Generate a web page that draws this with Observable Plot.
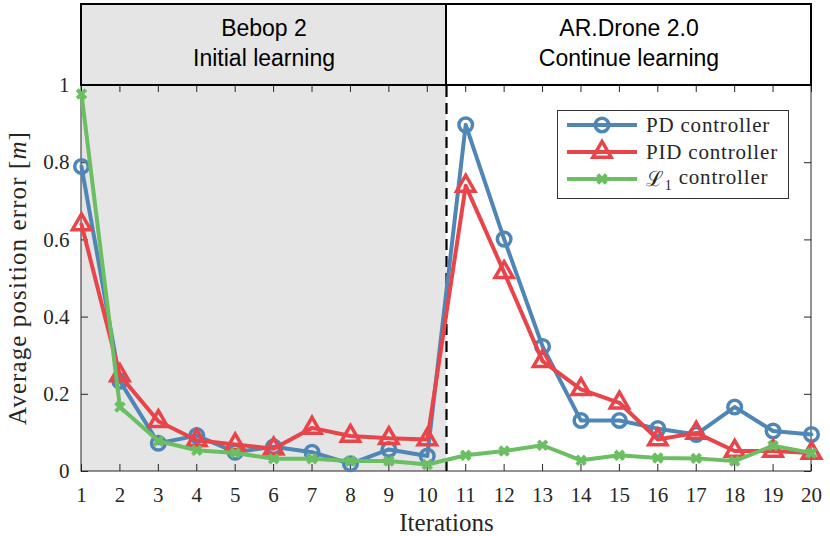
<!DOCTYPE html>
<html><head><meta charset="utf-8">
<script src="https://cdn.jsdelivr.net/npm/d3@7"></script>
<script src="https://cdn.jsdelivr.net/npm/@observablehq/plot@0.6"></script>
<style>body{margin:0;background:#fff} svg{display:block}</style>
</head><body><div id="chart"></div>
<script>
// ---- data ----
const iterations = [1,2,3,4,5,6,7,8,9,10,11,12,13,14,15,16,17,18,19,20];
const pd  = [0.790,0.234,0.073,0.093,0.050,0.064,0.050,0.020,0.057,0.040, 0.898,0.602,0.324,0.132,0.132,0.111,0.096,0.167,0.105,0.096];
const pid = [0.640,0.249,0.130,0.081,0.070,0.059,0.113,0.092,0.086,0.083, 0.740,0.516,0.286,0.213,0.178,0.083,0.100,0.053,0.053,0.048];
const l1  = [0.978,0.167,0.079,0.055,0.048,0.033,0.033,0.027,0.027,0.018, 0.042,0.053,0.068,0.029,0.042,0.035,0.034,0.027,0.067,0.048];
const yTicks = [0,0.2,0.4,0.6,0.8,1];
const yTickLabels = ["0","0.2","0.4","0.6","0.8","1"];
const phaseStart = [1, 10.5];
const phaseEnd = [10.5, 20];
const phaseTitle = ["Bebop 2", "AR.Drone 2.0"];
const phaseSubtitle = ["Initial learning", "Continue learning"];
const seriesNames = ["PD controller", "PID controller", "controller"];

const blue = "#4f86b6", red = "#e8454b", green = "#6bbe61";
const yTop = 1.2098;           // header band sits above y = 1
const W = 830, H = 536, mL = 81, mR = 19, mT = 4, mB = 65;
const tx = 7 / ((W - mL - mR) / 19);   // 7px tick in x units
const ty = 7 / ((H - mT - mB) / yTop); // 7px tick in y units

const rows = iterations.map((it, i) => ({it, pd: pd[i], pid: pid[i], l1: l1[i]}));
const phases = phaseStart.map((s, i) => ({s, e: phaseEnd[i], t: phaseTitle[i], st: phaseSubtitle[i], i}));

const serif = "Liberation Serif, Times New Roman, serif";
const sans = "Liberation Sans, Arial, Helvetica, sans-serif";

const plot = Plot.plot({
  width: W, height: H,
  marginLeft: mL, marginRight: mR, marginTop: mT, marginBottom: mB,
  x: {domain: [1, 20], axis: null},
  y: {domain: [0, yTop], axis: null},
  style: {background: "white"},
  marks: [
    Plot.rect([0], {x1: () => 1, x2: () => 10.5, y1: () => 0, y2: () => yTop, fill: "#e5e5e5"}),
    Plot.rect([0], {x1: () => 1, x2: () => 20, y1: () => 0, y2: () => 1, fill: "none", stroke: "#262626", strokeWidth: 1}),
    // inward ticks
    Plot.ruleX(iterations, {x: d => d, y1: () => 0, y2: () => ty, stroke: "#262626", strokeWidth: 1}),
    Plot.ruleX(iterations, {x: d => d, y1: () => 1 - ty, y2: () => 1, stroke: "#262626", strokeWidth: 1}),
    Plot.ruleY(yTicks, {y: d => d, x1: () => 1, x2: () => 1 + tx, stroke: "#262626", strokeWidth: 1}),
    Plot.ruleY(yTicks, {y: d => d, x1: () => 20 - tx, x2: () => 20, stroke: "#262626", strokeWidth: 1}),
    // header boxes
    Plot.rect(phases, {x1: "s", x2: "e", y1: () => 1, y2: () => yTop, fill: d => d.i ? "white" : "none", stroke: "black", strokeWidth: 2}),
    Plot.text(phases, {x: d => (d.s + d.e) / 2, y: () => yTop, dy: 24.5, text: "t", fontSize: 23, fontFamily: sans, fill: "black"}),
    Plot.text(phases, {x: d => (d.s + d.e) / 2, y: () => yTop, dy: 54.5, text: "st", fontSize: 23, fontFamily: sans, fill: "black"}),
    // dashed divider
    Plot.ruleX([10.5], {x: d => d, y1: () => 0, y2: () => 1, stroke: "black", strokeWidth: 2.2, strokeDasharray: "11,6"}),
    // tick labels
    Plot.text(iterations, {x: d => d, y: () => 0, dy: 24, text: d => String(d), fontSize: 21, fontFamily: serif, fill: "#262626"}),
    Plot.text(yTicks, {x: () => 1, y: d => d, dx: -12, text: (d, i) => yTickLabels[i], textAnchor: "end", fontSize: 21, fontFamily: serif, fill: "#262626"}),
    Plot.text([0], {x: () => 10.5, y: () => 0, dy: 51, text: () => "Iterations", fontSize: 25, fontFamily: serif, fill: "#262626", letterSpacing: 1.1}),
    // series
    Plot.line(rows, {x: "it", y: "pd", stroke: blue, strokeWidth: 4}),
    Plot.dot(rows, {x: "it", y: "pd", r: 6.8, stroke: blue, strokeWidth: 3.5, fill: "none"}),
    Plot.line(rows, {x: "it", y: "pid", stroke: red, strokeWidth: 4}),
    Plot.dot(rows, {x: "it", y: "pid", r: 6.8, symbol: "triangle", stroke: red, strokeWidth: 3.5, fill: "none"}),
    Plot.line(rows, {x: "it", y: "l1", stroke: green, strokeWidth: 4}),
    Plot.dot(rows, {x: "it", y: "l1", r: 4, symbol: "times", stroke: green, strokeWidth: 4})
  ]
});

const svg = d3.select(plot);
const ys = plot.scale("y");
// y axis label
const yl = svg.append("text")
  .attr("transform", `translate(20,${ys.apply(0.5)}) rotate(-90)`)
  .attr("text-anchor", "middle").attr("dominant-baseline", "middle")
  .attr("font-family", serif).attr("font-size", 25).attr("fill", "#262626")
  .style("letter-spacing", "1.1px");
yl.append("tspan").text("Average position error [");
yl.append("tspan").attr("font-style", "italic").text("m");
yl.append("tspan").text("]");

// legend
const lg = svg.append("g").attr("text-anchor", "start");
lg.append("rect").attr("x", 557.5).attr("y", 110.5).attr("width", 231).attr("height", 88)
  .attr("fill", "white").attr("stroke", "#333").attr("stroke-width", 1);
const colors = [blue, red, green];
const symbols = [d3.symbolCircle, d3.symbolTriangle, d3.symbolTimes];
const ly = [125, 152, 179];
colors.forEach((c, i) => {
  lg.append("line").attr("x1", 567).attr("x2", 637).attr("y1", ly[i]).attr("y2", ly[i])
    .attr("stroke", c).attr("stroke-width", 4);
  const size = i === 2 ? Math.PI * 16 : Math.PI * 6.8 * 6.8;
  lg.append("path").attr("d", d3.symbol(symbols[i], size)())
    .attr("transform", `translate(602,${ly[i]})`)
    .attr("fill", "none").attr("stroke", c).attr("stroke-width", i === 2 ? 4 : 3.5);
  const t = lg.append("text").attr("x", 646).attr("y", ly[i]).attr("dy", "0.34em")
    .attr("text-anchor", "start")
    .attr("font-family", serif).attr("font-size", 21).attr("fill", "#262626")
    .style("letter-spacing", "0.8px");
  if (i === 2) {
    t.append("tspan").text("\u2112");
    t.append("tspan").attr("font-size", 14).attr("dy", "0.3em").text("1");
    t.append("tspan").attr("dy", "-0.3em").text(" " + seriesNames[i]);
  } else {
    t.text(seriesNames[i]);
  }
});

document.getElementById("chart").appendChild(plot);
</script>
</body></html>
